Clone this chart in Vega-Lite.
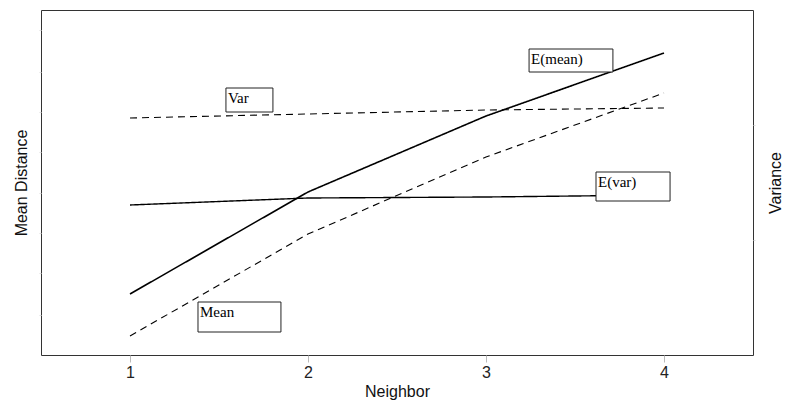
{
  "$schema": "https://vega.github.io/schema/vega-lite/v6.json",
  "width": 712,
  "height": 345,
  "autosize": {"type": "none"},
  "padding": {"left": 41, "top": 10, "right": 32, "bottom": 47},
  "background": "white",
  "config": {
    "view": {"stroke": "#333", "strokeWidth": 1},
    "font": "Liberation Sans",
    "axis": {
      "domain": false,
      "grid": false,
      "labelFont": "Liberation Sans",
      "labelFontSize": 16,
      "labelColor": "#222",
      "titleFont": "Liberation Sans",
      "titleFontSize": 16,
      "titleFontWeight": "normal",
      "titleColor": "#111",
      "tickColor": "#bbb"
    }
  },
  "datasets": {
    "meanLines": [
      {"series": "E(mean)", "neighbor": 1, "value": 61},
      {"series": "E(mean)", "neighbor": 2, "value": 163},
      {"series": "E(mean)", "neighbor": 3, "value": 239},
      {"series": "E(mean)", "neighbor": 4, "value": 302},
      {"series": "Mean", "neighbor": 1, "value": 19},
      {"series": "Mean", "neighbor": 2, "value": 121},
      {"series": "Mean", "neighbor": 3, "value": 198},
      {"series": "Mean", "neighbor": 4, "value": 262}
    ],
    "varLines": [
      {"series": "E(var)", "neighbor": 1, "value": 150},
      {"series": "E(var)", "neighbor": 2, "value": 157},
      {"series": "E(var)", "neighbor": 3, "value": 158},
      {"series": "E(var)", "neighbor": 4, "value": 160},
      {"series": "Var", "neighbor": 1, "value": 237},
      {"series": "Var", "neighbor": 2, "value": 241},
      {"series": "Var", "neighbor": 3, "value": 245},
      {"series": "Var", "neighbor": 4, "value": 247}
    ],
    "boxes": [
      {"label": "Var", "x1": 1.539, "x2": 1.803, "y1": 267, "y2": 243},
      {"label": "E(mean)", "x1": 3.242, "x2": 3.713, "y1": 306, "y2": 283},
      {"label": "E(var)", "x1": 3.618, "x2": 4.034, "y1": 183, "y2": 154},
      {"label": "Mean", "x1": 1.382, "x2": 1.848, "y1": 53, "y2": 23}
    ]
  },
  "layer": [
    {
      "data": {"name": "meanLines"},
      "mark": {"type": "line", "color": "black"},
      "encoding": {
        "x": {
          "field": "neighbor", "type": "quantitative",
          "scale": {"domain": [0.5, 4.5], "nice": false, "zero": false},
          "axis": {"values": [1, 2, 3, 4], "title": "Neighbor", "tickSize": 7, "labelPadding": 2, "titlePadding": 3, "format": "d"}
        },
        "y": {
          "field": "value", "type": "quantitative",
          "scale": {"domain": [0, 345], "nice": false},
          "axis": {"orient": "left", "title": "Mean Distance", "labels": false, "tickSize": 2, "tickColor": "#ddd", "values": [40, 82, 122, 162, 203, 243, 283, 325], "titlePadding": 9}
        },
        "detail": {"field": "series"},
        "strokeDash": {
          "field": "series", "type": "nominal",
          "scale": {"domain": ["E(mean)", "Mean"], "range": [[1, 0], [7, 5]]},
          "legend": null
        },
        "strokeWidth": {
          "field": "series", "type": "nominal",
          "scale": {"domain": ["E(mean)", "Mean"], "range": [1.6, 1.1]},
          "legend": null
        }
      }
    },
    {
      "data": {"name": "varLines"},
      "mark": {"type": "line", "color": "black"},
      "encoding": {
        "x": {"field": "neighbor", "type": "quantitative", "scale": {"domain": [0.5, 4.5], "nice": false, "zero": false}},
        "y": {
          "field": "value", "type": "quantitative",
          "scale": {"domain": [0, 345], "nice": false},
          "axis": {"orient": "right", "title": "Variance", "labels": false, "tickSize": 2, "tickColor": "#ddd", "values": [115, 230], "titleAngle": -90, "titlePadding": 28}
        },
        "detail": {"field": "series"},
        "strokeDash": {
          "field": "series", "type": "nominal",
          "scale": {"domain": ["E(var)", "Var"], "range": [[1, 0], [7, 5]]},
          "legend": null
        },
        "strokeWidth": {
          "field": "series", "type": "nominal",
          "scale": {"domain": ["E(var)", "Var"], "range": [1.4, 1.1]},
          "legend": null
        }
      }
    },
    {
      "data": {"name": "boxes"},
      "mark": {"type": "rect", "fill": "white", "stroke": "#222", "strokeWidth": 1},
      "encoding": {
        "x": {"field": "x1", "type": "quantitative", "scale": {"domain": [0.5, 4.5], "nice": false, "zero": false}},
        "x2": {"field": "x2"},
        "y": {"field": "y1", "type": "quantitative", "scale": {"domain": [0, 345], "nice": false}, "axis": null},
        "y2": {"field": "y2"}
      }
    },
    {
      "data": {"name": "boxes"},
      "mark": {"type": "text", "font": "Liberation Serif", "fontSize": 15, "align": "left", "baseline": "top", "dx": 2, "dy": 3, "color": "black"},
      "encoding": {
        "x": {"field": "x1", "type": "quantitative", "scale": {"domain": [0.5, 4.5], "nice": false, "zero": false}},
        "y": {"field": "y1", "type": "quantitative", "scale": {"domain": [0, 345], "nice": false}, "axis": null},
        "text": {"field": "label"}
      }
    }
  ],
  "resolve": {"scale": {"y": "independent", "strokeDash": "independent", "strokeWidth": "independent"}}
}
